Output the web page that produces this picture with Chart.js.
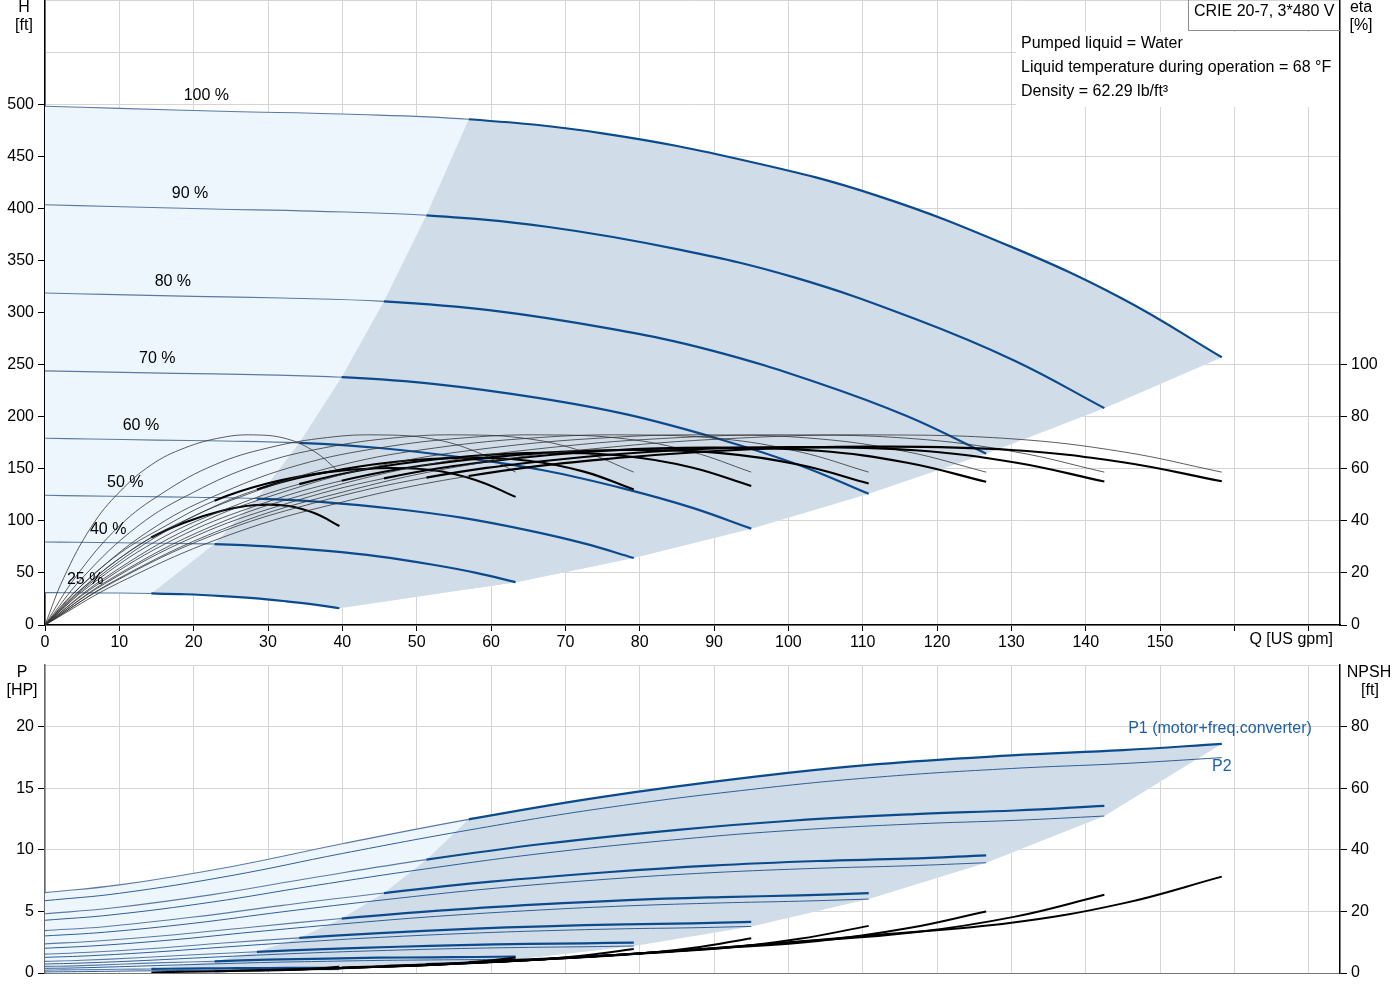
<!DOCTYPE html>
<html>
<head>
<meta charset="utf-8">
<script src="https://cdn.jsdelivr.net/npm/chart.js@4.4.1/dist/chart.umd.min.js"></script>
<style>
  html, body { margin: 0; padding: 0; background: #fff; }
  #wrap { position: relative; width: 1400px; height: 1000px; }
  #head { position: absolute; left: 0; top: 0; }
  #power { position: absolute; left: 0; top: 655px; }
</style>
</head>
<body>
<div id="wrap">
  <canvas id="head" width="1400" height="650"></canvas>
  <canvas id="power" width="1400" height="345"></canvas>
</div>
<script>
// ---- data ----
const speedLabels = ['100 %', '90 %', '80 %', '70 %', '60 %', '50 %', '40 %', '25 %'];

// flow points per speed curve [US gpm]
const flows = [
  [0, 10, 25, 40, 57, 75, 95, 112, 130, 145, 158.3],
  [0, 9, 22.5, 36, 51.3, 67.5, 85.5, 100.8, 117, 130.5, 142.5],
  [0, 8, 20, 32, 45.6, 60, 76, 89.6, 104, 116, 126.6],
  [0, 7, 17.5, 28, 39.9, 52.5, 66.5, 78.4, 91, 101.5, 110.8],
  [0, 6, 15, 24, 34.2, 45, 57, 67.2, 78, 87, 95],
  [0, 5, 12.5, 20, 28.5, 37.5, 47.5, 56, 65, 72.5, 79.2],
  [0, 4, 10, 16, 22.8, 30, 38, 44.8, 52, 58, 63.3],
  [0, 2.5, 6.3, 10, 14.3, 18.8, 23.8, 28, 32.5, 36.3, 39.6]
];

// head H [ft]
const heads = [
  [498, 496, 493, 490.5, 485.5, 472, 444.5, 412, 363, 313, 257],
  [403.4, 401.8, 399.3, 397.3, 393.3, 382.3, 360.1, 333.7, 294.0, 253.5, 208.2],
  [318.7, 317.4, 315.5, 313.9, 310.7, 302.1, 284.5, 263.7, 232.3, 200.3, 164.5],
  [244.0, 243.0, 241.6, 240.4, 237.9, 231.3, 217.8, 201.9, 177.9, 153.4, 125.9],
  [179.3, 178.6, 177.5, 176.6, 174.8, 169.9, 160.0, 148.3, 130.7, 112.7, 92.5],
  [124.5, 124.0, 123.3, 122.6, 121.4, 118.0, 111.1, 103.0, 90.8, 78.3, 64.3],
  [79.7, 79.4, 78.9, 78.5, 77.7, 75.5, 71.1, 65.9, 58.1, 50.1, 41.1],
  [31.1, 31.0, 30.8, 30.7, 30.3, 29.5, 27.8, 25.8, 22.7, 19.6, 16.1]
];

// pump efficiency [%] (same at every speed)
const etaPump = [0, 18, 38, 51, 61.5, 68, 72, 73, 71.5, 66.5, 58.7];

// total efficiency pump+motor+converter [%]
const etaTotal = [
  [0, 16.3, 34.8, 47.2, 57.2, 63.6, 67.5, 68.5, 67.2, 62.5, 55.2],
  [0, 16.1, 34.4, 46.7, 56.6, 63.1, 67.2, 68.3, 67.1, 62.4, 55.1],
  [0, 15.8, 33.8, 46.2, 56.3, 62.9, 67.0, 68.1, 66.9, 62.3, 55.0],
  [0, 15.4, 33.1, 45.4, 55.4, 61.9, 66.0, 67.2, 66.0, 61.5, 54.3],
  [0, 15.0, 32.3, 44.1, 54.1, 60.7, 64.8, 66.1, 64.9, 60.5, 53.4],
  [0, 14.1, 30.4, 41.8, 52.0, 58.5, 62.8, 64.1, 63.1, 58.9, 52.0],
  [0, 12.7, 27.4, 37.7, 47.7, 54.4, 58.7, 60.2, 59.5, 55.6, 49.2],
  [0, 7.2, 17.1, 25.5, 33.6, 39.4, 43.9, 46.0, 45.8, 42.9, 38.0]
];

// P1 (motor+freq.converter) [HP]
const powerP1 = [
  [6.52, 7.15, 8.63, 10.49, 12.47, 14.30, 15.90, 16.95, 17.66, 18.09, 18.60],
  [4.81, 5.27, 6.36, 7.73, 9.20, 10.51, 11.64, 12.38, 12.90, 13.19, 13.57],
  [3.44, 3.76, 4.54, 5.49, 6.49, 7.41, 8.20, 8.72, 9.09, 9.28, 9.55],
  [2.36, 2.60, 3.11, 3.74, 4.42, 5.04, 5.57, 5.92, 6.16, 6.30, 6.49],
  [1.53, 1.68, 2.01, 2.43, 2.85, 3.24, 3.58, 3.79, 3.95, 4.03, 4.15],
  [0.94, 1.03, 1.24, 1.48, 1.72, 1.94, 2.13, 2.27, 2.36, 2.41, 2.47],
  [0.54, 0.58, 0.71, 0.84, 0.95, 1.08, 1.17, 1.24, 1.27, 1.30, 1.34],
  [0.23, 0.25, 0.27, 0.30, 0.33, 0.36, 0.38, 0.40, 0.41, 0.42, 0.42]
];

// P2 shaft power [HP]
const powerP2 = [
  [5.87, 6.47, 7.90, 9.70, 11.60, 13.37, 14.90, 15.90, 16.60, 17.00, 17.48],
  [4.28, 4.72, 5.76, 7.07, 8.46, 9.75, 10.86, 11.59, 12.10, 12.39, 12.74],
  [3.01, 3.31, 4.04, 4.97, 5.94, 6.85, 7.63, 8.14, 8.50, 8.70, 8.95],
  [2.01, 2.22, 2.71, 3.33, 3.98, 4.59, 5.11, 5.45, 5.69, 5.83, 6.00],
  [1.27, 1.40, 1.71, 2.10, 2.51, 2.89, 3.22, 3.43, 3.59, 3.67, 3.78],
  [0.73, 0.81, 0.99, 1.21, 1.45, 1.67, 1.86, 1.99, 2.08, 2.13, 2.19],
  [0.38, 0.41, 0.51, 0.62, 0.74, 0.86, 0.95, 1.02, 1.06, 1.09, 1.12],
  [0.09, 0.10, 0.12, 0.15, 0.18, 0.21, 0.23, 0.25, 0.26, 0.27, 0.27]
];

// NPSH [ft], only over the operating range (from the 5th flow point on)
const npsh = [
  [3.6, 5.6, 9.0, 12.4, 16.3, 22.6, 31.3],
  [2.9, 4.5, 7.3, 10.0, 13.2, 18.3, 25.4],
  [2.3, 3.6, 5.8, 7.9, 10.4, 14.5, 20.0],
  [1.8, 2.7, 4.4, 6.1, 8.0, 11.1, 15.3],
  [1.3, 2.0, 3.2, 4.5, 5.9, 8.1, 11.3],
  [0.9, 1.4, 2.3, 3.1, 4.1, 5.7, 7.8],
  [0.6, 0.9, 1.4, 2.0, 2.6, 3.6, 5.0],
  [0.2, 0.4, 0.6, 0.8, 1.0, 1.4, 2.0]
];

const pumpName = 'CRIE 20-7, 3*480 V';
const fluidNotes = [
  'Pumped liquid = Water',
  'Liquid temperature during operation = 68 °F',
  'Density = 62.29 lb/ft³'
];

// where the speed labels sit along Q
const labelQ = [21.7, 19.5, 17.2, 15.1, 12.9, 10.8, 8.5, 5.4];

// ---- styling ----
const QMIN = 4;           // first point of the operating range (thick part)
const SMOOTH = 0.4;
const FONT = '16px "Liberation Sans", Arial, sans-serif';
const DARK_BLUE = '#0b4a8c';
const THIN_BLUE = '#5a7aa4';
const LIGHT_FILL = '#eef6fd';
const DARK_FILL = '#d0dce8';
const GRID = '#d5d5d5';

Chart.defaults.font.family = '"Liberation Sans", Arial, sans-serif';
Chart.defaults.font.size = 16;
Chart.defaults.color = '#000';
Chart.defaults.animation = false;
Chart.defaults.elements.point.radius = 0;

const pairs = (xs, ys) => ys.map((y, i) => ({ x: xs[i], y: y }));
const last = flows[0].length - 1;

const split = (thickColor, thinColor, thick, thin) => ({
  borderColor: c => c.p0DataIndex >= QMIN ? thickColor : thinColor,
  borderWidth: c => c.p0DataIndex >= QMIN ? thick : thin
});

const noPad = s => { s.paddingTop = 0; s.paddingBottom = 0; s.paddingLeft = 0; s.paddingRight = 0; };

function xAxis(labels) {
  return {
    type: 'linear', min: 0, max: 174.2,
    ticks: { stepSize: 10, includeBounds: false, autoSkip: false, maxRotation: 0,
             display: labels, padding: 2, callback: v => v <= 150 ? v : '' },
    grid: { color: GRID, tickColor: '#000', tickLength: 6, drawTicks: labels },
    border: { color: labels ? '#000' : '#777', width: labels ? 1.5 : 1 },
    afterFit: s => { s.height = labels ? 25 : 27; noPad(s); }
  };
}

function yAxis(pos, max, step, lastLabel, onArea, borderColor, width) {
  return {
    position: pos, min: 0, max: max,
    ticks: { stepSize: step, autoSkip: false, padding: 4, callback: v => v <= lastLabel ? v : '' },
    grid: { drawOnChartArea: onArea, color: GRID, tickLength: 7,
            tickColor: c => (c.tick && c.tick.value <= lastLabel) ? '#000' : 'rgba(0,0,0,0)' },
    border: { color: borderColor, width: 1.5 },
    afterFit: s => { s.width = width; noPad(s); }
  };
}

// fill outline pieces: lower edge (lowest speed curve + end-of-curve points),
// left edge of the operating range (first thick points), upper curve
function fillEdges(vals, lowVals, endVals) {
  const lower = pairs(flows[7], lowVals);
  for (let i = 6; i >= 0; i--) lower.push({ x: flows[i][last], y: endVals(i) });
  const left = [];
  for (let i = 7; i >= 0; i--) left.push({ x: flows[i][QMIN], y: vals[i][QMIN] });
  left.push({ x: flows[0][QMIN + 1], y: vals[0][QMIN + 1] });
  const upper = pairs(flows[0], vals[0]);
  return { lower, left, upper };
}

function fillSets(edges) {
  return [
    { data: edges.lower, yAxisID: 'y', borderWidth: 0, borderColor: 'transparent', fill: false, order: 9 },
    { data: edges.upper, yAxisID: 'y', borderWidth: 0, borderColor: 'transparent',
      backgroundColor: LIGHT_FILL, fill: { target: 0 }, tension: SMOOTH, order: 8 },
    { data: edges.left, yAxisID: 'y', borderWidth: 0, borderColor: 'transparent',
      backgroundColor: DARK_FILL, fill: { target: 0 }, order: 7 },
    { data: edges.upper, yAxisID: 'y', borderWidth: 0, borderColor: 'transparent',
      backgroundColor: DARK_FILL, fill: { target: 0 }, tension: SMOOTH, order: 6,
      segment: { backgroundColor: c => c.p0DataIndex >= QMIN ? DARK_FILL : 'rgba(0,0,0,0)' } }
  ];
}

// ---- head / efficiency chart ----
const headSets = fillSets(fillEdges(heads, heads[7], i => heads[i][last]));
speedLabels.forEach((_, i) => {
  headSets.push({ data: pairs(flows[i], heads[i]), yAxisID: 'y', fill: false,
    tension: SMOOTH, segment: split(DARK_BLUE, THIN_BLUE, 2.2, 1.1), order: 1 });
  headSets.push({ data: pairs(flows[i], etaPump), yAxisID: 'yEta', fill: false,
    borderColor: '#333', borderWidth: 0.8, tension: SMOOTH, order: 0 });
  headSets.push({ data: pairs(flows[i], etaTotal[i]), yAxisID: 'yEta', fill: false,
    tension: SMOOTH, segment: split('#000', '#333', 2.1, 0.8), order: 0 });
});

const headNotes = {
  id: 'headNotes',
  afterDatasetsDraw(chart) {
    const { ctx, chartArea: a } = chart;
    const x = chart.scales.x, y = chart.scales.y;
    ctx.save();
    ctx.font = FONT;
    ctx.fillStyle = '#000';
    ctx.textBaseline = 'middle';
    ctx.textAlign = 'center';
    speedLabels.forEach((t, i) => {
      ctx.fillText(t, x.getPixelForValue(labelQ[i]), y.getPixelForValue(heads[i][1]) - 13);
    });
    ctx.fillText('H', a.left - 21, 8);
    ctx.fillText('[ft]', a.left - 21, 26);
    ctx.fillText('eta', a.right + 21, 8);
    ctx.fillText('[%]', a.right + 21, 26);
    ctx.textAlign = 'right';
    ctx.fillText('Q [US gpm]', a.right - 7, a.bottom + 15);

    ctx.fillStyle = '#fff';
    ctx.fillRect(a.right - 324, 32, 323, 75);
    ctx.fillStyle = '#000';
    ctx.textAlign = 'left';
    fluidNotes.forEach((t, i) => ctx.fillText(t, a.right - 319, 44 + i * 24));

    ctx.fillStyle = '#fff';
    ctx.fillRect(a.right - 151, a.top + 1, 150, 29);
    ctx.strokeStyle = '#8c8c8c';
    ctx.lineWidth = 1;
    ctx.beginPath();
    ctx.moveTo(a.right - 151.5, a.top);
    ctx.lineTo(a.right - 151.5, a.top + 30.5);
    ctx.lineTo(a.right, a.top + 30.5);
    ctx.stroke();
    ctx.fillStyle = '#000';
    ctx.fillText(pumpName, a.right - 146, 12);
    ctx.restore();
  }
};

new Chart(document.getElementById('head'), {
  type: 'line',
  data: { datasets: headSets },
  options: {
    responsive: false,
    devicePixelRatio: 1,
    layout: { padding: { top: 0, left: 0, right: 0, bottom: 0 } },
    plugins: { legend: { display: false }, tooltip: { enabled: false } },
    scales: {
      x: xAxis(true),
      y: yAxis('left', 600, 50, 500, true, '#000', 45),
      yEta: yAxis('right', 240, 20, 100, false, '#000', 60)
    }
  },
  plugins: [headNotes]
});

// ---- power / NPSH chart ----
const pEdges = fillEdges(powerP1, powerP2[7], i => (i === 0 ? powerP1[0][last] : powerP2[i][last]));
const powerSets = fillSets(pEdges);
speedLabels.forEach((_, i) => {
  powerSets.push({ data: pairs(flows[i], powerP2[i]), yAxisID: 'y', fill: false,
    borderColor: '#2f5f96', borderWidth: 1, tension: SMOOTH, order: 1 });
  powerSets.push({ data: pairs(flows[i], powerP1[i]), yAxisID: 'y', fill: false,
    tension: SMOOTH, segment: split(DARK_BLUE, THIN_BLUE, 2.2, 1.1), order: 1 });
  powerSets.push({ data: pairs(flows[i].slice(QMIN), npsh[i]), yAxisID: 'yNpsh', fill: false,
    borderColor: '#000', borderWidth: 2, tension: SMOOTH, order: 0 });
});

const powerNotes = {
  id: 'powerNotes',
  afterDatasetsDraw(chart) {
    const { ctx, chartArea: a } = chart;
    const x = chart.scales.x, y = chart.scales.y;
    ctx.save();
    ctx.font = FONT;
    ctx.textBaseline = 'middle';
    ctx.textAlign = 'center';
    ctx.fillStyle = '#000';
    ctx.fillText('P', a.left - 23, a.top + 8);
    ctx.fillText('[HP]', a.left - 23, a.top + 26);
    ctx.fillText('NPSH', a.right + 29, a.top + 8);
    ctx.fillText('[ft]', a.right + 30, a.top + 26);
    const ex = x.getPixelForValue(flows[0][last]);
    ctx.fillStyle = '#1f5fa5';
    ctx.textAlign = 'right';
    ctx.fillText('P1 (motor+freq.converter)', ex + 90, y.getPixelForValue(powerP1[0][last]) - 15);
    ctx.textAlign = 'center';
    ctx.fillText('P2', ex, y.getPixelForValue(powerP2[0][last]) + 9);
    ctx.restore();
  }
};

new Chart(document.getElementById('power'), {
  type: 'line',
  data: { datasets: powerSets },
  options: {
    responsive: false,
    devicePixelRatio: 1,
    layout: { padding: { top: 10, left: 0, right: 0, bottom: 0 } },
    plugins: { legend: { display: false }, tooltip: { enabled: false } },
    scales: {
      x: xAxis(false),
      y: yAxis('left', 25, 5, 20, true, '#666', 45),
      yNpsh: yAxis('right', 100, 20, 80, false, '#000', 60)
    }
  },
  plugins: [powerNotes]
});
</script>
</body>
</html>
